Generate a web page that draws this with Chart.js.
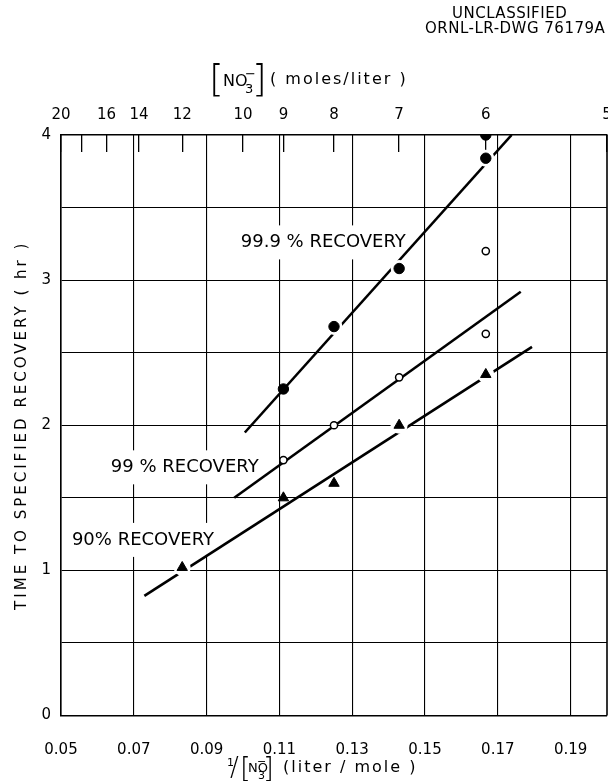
<!DOCTYPE html>
<html>
<head>
<meta charset="utf-8">
<script src="https://cdn.jsdelivr.net/npm/chart.js@4.4.1/dist/chart.umd.min.js"></script>
<style>
  html, body { margin: 0; padding: 0; background: #fff; overflow: hidden; }
  #wrap { position: relative; width: 608px; height: 781px; }
  #chart { display: block; }
</style>
</head>
<body>
<div id="wrap"><canvas id="chart"></canvas></div>
<script>
// ---- axis ticks ----
const recipTicks = [0.05, 0.07, 0.09, 0.11, 0.13, 0.15, 0.17, 0.19];   // 1/[NO3-] (liter/mole)
const concTicks  = [20, 18, 16, 14, 12, 10, 9, 8, 7, 6, 5];             // [NO3-] (moles/liter)
const concLabels = ['20', '', '16', '14', '12', '10', '9', '8', '7', '6', '5'];
const hourLabels = ['0', '1', '2', '3', '4'];

// ---- measured points: x = 1/[NO3-], y = hours ----
const x999 = [0.1111, 0.125, 0.1429, 0.1667, 0.1667];
const y999 = [2.25, 2.68, 3.08, 3.84, 4.0];
const x99  = [0.1111, 0.125, 0.1429, 0.1667, 0.1667];
const y99  = [1.76, 2.0, 2.33, 2.63, 3.2];
const x90  = [0.0833, 0.1111, 0.125, 0.1429, 0.1667];
const y90  = [1.02, 1.5, 1.6, 2.0, 2.35];

// ---- fitted straight lines (end points) ----
const fitX999 = [0.1005, 0.1738];
const fitY999 = [1.95, 4.0];
const fitX99  = [0.0976, 0.1763];
const fitY99  = [1.5, 2.92];
const fitX90  = [0.0729, 0.1794];
const fitY90  = [0.824, 2.54];

// points where the drawn line is broken around the marker
const gaps999 = [1, 2, 3];
const gaps90  = [0, 3, 4];

const FONT = '"DejaVu Sans", sans-serif';

const pts = (xs, ys) => xs.map((x, i) => ({ x, y: ys[i] }));

const curveLabels = [
  { text: '99.9 % RECOVERY', x: 0.0994, y: 3.26 },
  { text: '99 % RECOVERY',   x: 0.0637, y: 1.71 },
  { text: '90% RECOVERY',    x: 0.0530, y: 1.21 }
];

const fitLine = (xs, ys) => ({
  data: pts(xs, ys), showLine: true, borderColor: '#000', borderWidth: 2.6,
  pointRadius: 0, fill: false, order: 3
});
const halo = (xs, ys, gaps) => ({
  data: pts(xs, ys), showLine: false,
  pointRadius: c => gaps.includes(c.dataIndex) ? 8.5 : 0,
  pointBackgroundColor: '#fff', pointBorderColor: '#fff', pointBorderWidth: 0, order: 2
});

// horizontal axes: fixed height, no extra side padding for overhanging labels
const ZERO_PAD = { left: 0, top: 0, right: 0, bottom: 0 };
const noSidePad = (s, h) => {
  s.height = h;
  s.paddingLeft = 0;
  s.paddingRight = 0;
  s.getPadding = () => ZERO_PAD;
};

const textPlugin = {
  id: 'textPlugin',
  beforeDatasetsDraw(chart) {
    const { ctx, chartArea: a, scales } = chart;
    ctx.save();
    ctx.font = '18px ' + FONT;
    ctx.textBaseline = 'middle';
    ctx.textAlign = 'left';
    curveLabels.forEach(l => {
      const px = scales.x.getPixelForValue(l.x);
      const py = scales.y.getPixelForValue(l.y);
      const w = ctx.measureText(l.text).width;
      ctx.fillStyle = '#fff';
      ctx.fillRect(px - 4, py - 17, w + 8, 34);
      ctx.fillStyle = '#000';
      ctx.fillText(l.text, px, py);
    });
    // right-hand frame edge
    ctx.strokeStyle = '#000';
    ctx.lineWidth = 1.6;
    ctx.beginPath();
    ctx.moveTo(a.right, a.top);
    ctx.lineTo(a.right, a.bottom);
    ctx.stroke();
    ctx.restore();
  },
  afterDraw(chart) {
    const { ctx, chartArea: a } = chart;
    ctx.save();
    ctx.fillStyle = '#000';
    ctx.textBaseline = 'alphabetic';
    ctx.textAlign = 'left';

    // drawing number block
    ctx.font = '15px ' + FONT;
    ctx.letterSpacing = '0.5px';
    ctx.fillText('UNCLASSIFIED', 452, 18);
    ctx.fillText('ORNL-LR-DWG 76179A', 425, 33);

    // top title: [NO3-] ( moles/liter )
    ctx.letterSpacing = '0px';
    ctx.font = '300 38px "DejaVu Sans", sans-serif';
    ctx.fillText('[', 209, 91);
    ctx.fillText(']', 252, 91);
    ctx.font = '16px ' + FONT;
    ctx.fillText('NO', 223, 86);
    ctx.font = '13px ' + FONT;
    ctx.fillText('3', 245, 93);
    ctx.fillText('\u2212', 245, 78);
    ctx.font = '16px ' + FONT;
    ctx.letterSpacing = '2px';
    ctx.fillText('( moles/liter )', 270, 84);

    // bottom title: 1/[NO3-] (liter / mole )
    ctx.letterSpacing = '0px';
    ctx.font = '11px ' + FONT;
    ctx.fillText('1', 227, 766);
    ctx.font = '300 26px "DejaVu Sans", sans-serif';
    ctx.fillText('/', 230, 776);
    ctx.font = '300 28px "DejaVu Sans", sans-serif';
    ctx.fillText('[', 240, 778);
    ctx.fillText(']', 263, 778);
    ctx.font = '13px ' + FONT;
    ctx.fillText('NO', 248, 772);
    ctx.font = '11px ' + FONT;
    ctx.fillText('3', 258, 779);
    ctx.fillText('\u2212', 257, 765);
    ctx.font = '16px ' + FONT;
    ctx.letterSpacing = '2px';
    ctx.fillText('(liter / mole )', 283, 772);

    // vertical axis title
    ctx.translate(22, (a.top + a.bottom) / 2);
    ctx.rotate(-Math.PI / 2);
    ctx.textAlign = 'center';
    ctx.textBaseline = 'middle';
    ctx.font = '15px ' + FONT;
    ctx.letterSpacing = '3px';
    ctx.fillText('TIME TO SPECIFIED RECOVERY ( hr )', 0, 0);
    ctx.restore();
  }
};

new Chart(document.getElementById('chart'), {
  type: 'scatter',
  data: {
    datasets: [
      // markers
      { data: pts(x999, y999), pointStyle: 'circle', pointRadius: 5.2,
        pointBackgroundColor: '#000', pointBorderColor: '#000', pointBorderWidth: 1, order: 0 },
      { data: pts(x99, y99), pointStyle: 'circle', pointRadius: 3.6,
        pointBackgroundColor: '#fff', pointBorderColor: '#000', pointBorderWidth: 1.5, order: 0 },
      { data: pts(x90, y90), pointStyle: 'triangle', pointRadius: 6,
        pointBackgroundColor: '#000', pointBorderColor: '#000', pointBorderWidth: 1, order: 0 },
      // breaks in the lines
      halo(x999, y999, gaps999),
      halo(x90, y90, gaps90),
      // fitted lines
      fitLine(fitX999, fitY999),
      fitLine(fitX99, fitY99),
      fitLine(fitX90, fitY90)
    ]
  },
  options: {
    responsive: true,
    maintainAspectRatio: false,
    animation: false,
    devicePixelRatio: 1,
    layout: { autoPadding: false, padding: { left: 0, right: 1, top: 0, bottom: 0 } },
    plugins: { legend: { display: false }, tooltip: { enabled: false } },
    scales: {
      x: {
        type: 'linear', position: 'bottom', min: 0.05, max: 0.2,
        afterBuildTicks: s => { s.ticks = recipTicks.map(v => ({ value: v })); },
        afterFit: s => noSidePad(s, 65.5),
        ticks: { callback: v => v.toFixed(2), color: '#000', font: { family: FONT, size: 15 },
                 padding: 26, maxRotation: 0, autoSkip: false },
        grid: { color: '#000', lineWidth: 1.1, drawTicks: false },
        border: { color: '#000', width: 1.6 }
      },
      x2: {
        type: 'linear', position: 'top', min: 0.05, max: 0.2,
        afterBuildTicks: s => { s.ticks = concTicks.map(c => ({ value: 1 / c })); },
        afterFit: s => noSidePad(s, 135),
        ticks: { callback: (v, i) => concLabels[i], color: '#000', font: { family: FONT, size: 15 },
                 padding: 28, maxRotation: 0, autoSkip: false },
        grid: { drawOnChartArea: false, drawTicks: true, tickLength: -17, color: '#000', lineWidth: 1.3 },
        border: { color: '#000', width: 1.6 }
      },
      y: {
        type: 'linear', position: 'left', min: 0, max: 4,
        afterBuildTicks: s => {
          const t = [];
          for (let v = 0; v <= 4; v += 0.5) t.push({ value: v });
          s.ticks = t;
        },
        afterFit: s => { s.width = 61; },
        ticks: { callback: v => Number.isInteger(v) ? hourLabels[v] : '', color: '#000',
                 font: { family: FONT, size: 15 }, padding: 10, autoSkip: false },
        grid: { color: '#000', lineWidth: 1.1, drawTicks: false },
        border: { color: '#000', width: 1.6 }
      }
    }
  },
  plugins: [textPlugin]
});
</script>
</body>
</html>
